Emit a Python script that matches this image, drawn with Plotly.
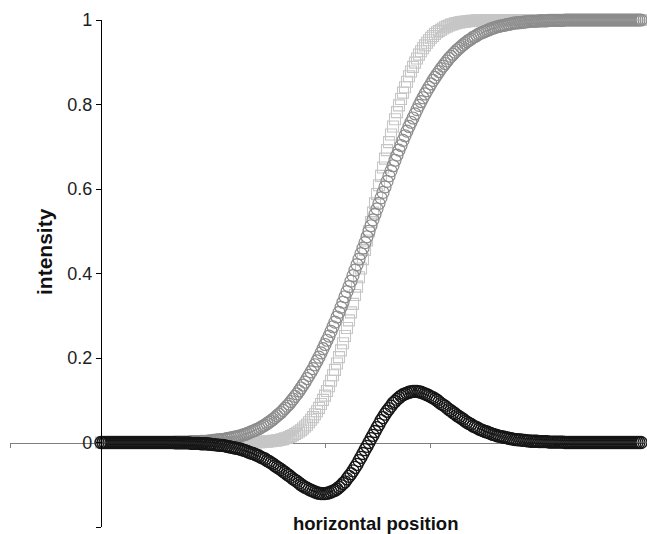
import plotly.graph_objects as go

# ---- data (sample index along the horizontal position) ----
x_pos = list(range(271))

circles = [
    0, 0, 0, 0, 0, 0, 0, 0, 0, 0,
    0, 0, 0, 0, 0, 0, 0, 0, 0, 0,
    0, 0, 0, 0, 0, 0, 0, 0, 0, 0,
    0, 0, 0, 0, 0, 0, 0, 0.001, 0.001, 0.001,
    0.001, 0.001, 0.001, 0.001, 0.001, 0.002, 0.002, 0.002, 0.002, 0.002,
    0.003, 0.003, 0.003, 0.003, 0.004, 0.004, 0.005, 0.005, 0.006, 0.006,
    0.007, 0.007, 0.008, 0.009, 0.010, 0.011, 0.012, 0.013, 0.014, 0.015,
    0.016, 0.018, 0.019, 0.021, 0.023, 0.025, 0.027, 0.029, 0.031, 0.033,
    0.036, 0.039, 0.041, 0.045, 0.048, 0.051, 0.055, 0.059, 0.063, 0.067,
    0.071, 0.076, 0.081, 0.086, 0.091, 0.097, 0.103, 0.109, 0.115, 0.122,
    0.129, 0.136, 0.143, 0.151, 0.159, 0.167, 0.175, 0.184, 0.193, 0.202,
    0.212, 0.222, 0.232, 0.242, 0.252, 0.263, 0.274, 0.285, 0.297, 0.308,
    0.320, 0.332, 0.345, 0.357, 0.369, 0.382, 0.395, 0.408, 0.421, 0.434,
    0.447, 0.460, 0.473, 0.487, 0.500, 0.513, 0.527, 0.540, 0.553, 0.566,
    0.579, 0.592, 0.605, 0.618, 0.631, 0.643, 0.655, 0.668, 0.680, 0.692,
    0.703, 0.715, 0.726, 0.737, 0.748, 0.758, 0.768, 0.778, 0.788, 0.798,
    0.807, 0.816, 0.825, 0.833, 0.841, 0.849, 0.857, 0.864, 0.871, 0.878,
    0.885, 0.891, 0.897, 0.903, 0.909, 0.914, 0.919, 0.924, 0.929, 0.933,
    0.937, 0.941, 0.945, 0.949, 0.952, 0.955, 0.959, 0.961, 0.964, 0.967,
    0.969, 0.971, 0.973, 0.975, 0.977, 0.979, 0.981, 0.982, 0.984, 0.985,
    0.986, 0.987, 0.988, 0.989, 0.990, 0.991, 0.992, 0.993, 0.993, 0.994,
    0.994, 0.995, 0.995, 0.996, 0.996, 0.997, 0.997, 0.997, 0.997, 0.998,
    0.998, 0.998, 0.998, 0.998, 0.999, 0.999, 0.999, 0.999, 0.999, 0.999,
    0.999, 0.999, 1, 1, 1, 1, 1, 1, 1, 1,
    1, 1, 1, 1, 1, 1, 1, 1, 1, 1,
    1, 1, 1, 1, 1, 1, 1, 1, 1, 1,
    1, 1, 1, 1, 1, 1, 1, 1, 1, 1,
    1,
]

squares = [
    0, 0, 0, 0, 0, 0, 0, 0, 0, 0,
    0, 0, 0, 0, 0, 0, 0, 0, 0, 0,
    0, 0, 0, 0, 0, 0, 0, 0, 0, 0,
    0, 0, 0, 0, 0, 0, 0, 0, 0, 0,
    0, 0, 0, 0, 0, 0, 0, 0, 0, 0,
    0, 0, 0, 0, 0, 0, 0, 0, 0, 0,
    0, 0, 0, 0, 0, 0, 0, 0, 0, 0,
    0, 0, 0, 0, 0, 0, 0.001, 0.001, 0.001, 0.001,
    0.001, 0.002, 0.002, 0.002, 0.003, 0.003, 0.004, 0.004, 0.005, 0.006,
    0.007, 0.008, 0.010, 0.011, 0.013, 0.015, 0.017, 0.020, 0.023, 0.026,
    0.029, 0.033, 0.038, 0.042, 0.048, 0.054, 0.060, 0.067, 0.074, 0.082,
    0.091, 0.101, 0.111, 0.122, 0.133, 0.146, 0.159, 0.172, 0.187, 0.202,
    0.218, 0.235, 0.252, 0.271, 0.289, 0.308, 0.328, 0.349, 0.369, 0.391,
    0.412, 0.434, 0.456, 0.478, 0.500, 0.522, 0.544, 0.566, 0.588, 0.609,
    0.631, 0.651, 0.672, 0.692, 0.711, 0.729, 0.748, 0.765, 0.782, 0.798,
    0.813, 0.828, 0.841, 0.854, 0.867, 0.878, 0.889, 0.899, 0.909, 0.918,
    0.926, 0.933, 0.940, 0.946, 0.952, 0.958, 0.962, 0.967, 0.971, 0.974,
    0.977, 0.980, 0.983, 0.985, 0.987, 0.989, 0.990, 0.992, 0.993, 0.994,
    0.995, 0.996, 0.996, 0.997, 0.997, 0.998, 0.998, 0.998, 0.999, 0.999,
    0.999, 0.999, 0.999, 1, 1, 1, 1, 1, 1, 1,
    1, 1, 1, 1, 1, 1, 1, 1, 1, 1,
    1, 1, 1, 1, 1, 1, 1, 1, 1, 1,
    1, 1, 1, 1, 1, 1, 1, 1, 1, 1,
    1, 1, 1, 1, 1, 1, 1, 1, 1, 1,
    1, 1, 1, 1, 1, 1, 1, 1, 1, 1,
    1, 1, 1, 1, 1, 1, 1, 1, 1, 1,
    1, 1, 1, 1, 1, 1, 1, 1, 1, 1,
    1,
]

difference = [
    0, 0, 0, 0, 0, 0, 0, 0, 0, 0,
    0, 0, 0, 0, 0, 0, 0, 0, 0, 0,
    0, 0, 0, 0, 0, 0, 0, 0, 0, 0,
    0, 0, 0, 0, 0, 0, 0, -0.001, -0.001, -0.001,
    -0.001, -0.001, -0.001, -0.001, -0.001, -0.002, -0.002, -0.002, -0.002, -0.002,
    -0.003, -0.003, -0.003, -0.003, -0.004, -0.004, -0.005, -0.005, -0.006, -0.006,
    -0.007, -0.007, -0.008, -0.009, -0.010, -0.011, -0.012, -0.013, -0.014, -0.015,
    -0.016, -0.018, -0.019, -0.021, -0.023, -0.025, -0.026, -0.028, -0.030, -0.032,
    -0.035, -0.037, -0.039, -0.043, -0.045, -0.048, -0.051, -0.055, -0.058, -0.061,
    -0.064, -0.068, -0.071, -0.075, -0.078, -0.082, -0.086, -0.089, -0.092, -0.096,
    -0.100, -0.103, -0.106, -0.108, -0.111, -0.113, -0.115, -0.117, -0.119, -0.120,
    -0.121, -0.121, -0.121, -0.120, -0.119, -0.117, -0.115, -0.113, -0.110, -0.106,
    -0.102, -0.097, -0.093, -0.086, -0.080, -0.074, -0.067, -0.059, -0.052, -0.043,
    -0.035, -0.026, -0.017, -0.009, 0, 0.009, 0.017, 0.026, 0.035, 0.043,
    0.052, 0.059, 0.067, 0.074, 0.080, 0.086, 0.093, 0.097, 0.102, 0.106,
    0.110, 0.113, 0.115, 0.117, 0.119, 0.120, 0.121, 0.121, 0.121, 0.120,
    0.119, 0.117, 0.115, 0.113, 0.111, 0.108, 0.106, 0.103, 0.100, 0.096,
    0.092, 0.089, 0.086, 0.082, 0.078, 0.075, 0.071, 0.068, 0.064, 0.061,
    0.058, 0.055, 0.051, 0.048, 0.045, 0.043, 0.039, 0.037, 0.035, 0.032,
    0.030, 0.028, 0.026, 0.025, 0.023, 0.021, 0.019, 0.018, 0.016, 0.015,
    0.014, 0.013, 0.012, 0.011, 0.010, 0.009, 0.008, 0.007, 0.007, 0.006,
    0.006, 0.005, 0.005, 0.004, 0.004, 0.003, 0.003, 0.003, 0.003, 0.002,
    0.002, 0.002, 0.002, 0.002, 0.001, 0.001, 0.001, 0.001, 0.001, 0.001,
    0.001, 0.001, 0, 0, 0, 0, 0, 0, 0, 0,
    0, 0, 0, 0, 0, 0, 0, 0, 0, 0,
    0, 0, 0, 0, 0, 0, 0, 0, 0, 0,
    0, 0, 0, 0, 0, 0, 0, 0, 0, 0,
    0,
]

for name, arr in (("circles", circles), ("squares", squares), ("difference", difference)):
    if len(arr) != len(x_pos):
        raise ValueError(f"{name} has {len(arr)} values, expected {len(x_pos)}")

y_ticks = [-0.2, 0, 0.2, 0.4, 0.6, 0.8, 1]
y_tick_labels = ["", "0", "0.2", "0.4", "0.6", "0.8", "1"]
x_title = "horizontal position"
y_title = "intensity"

# ---- layout constants ----
W, H = 647, 534
ML, MR, MT, MB = 10, 2, 20, 7
x_range = [-45.5, 272]
y_range = [-0.2, 1.0]
plot_w = W - ML - MR
plot_h = H - MT - MB

def px_to_paper_x(px):
    return (px - ML) / plot_w

def py_to_paper_y(py):
    return (H - MB - py) / plot_h

FONT = "Liberation Sans, Arial, sans-serif"

fig = go.Figure()
fig.add_trace(go.Scatter(
    x=x_pos, y=squares, mode="markers", cliponaxis=False,
    marker=dict(symbol="square-open", size=11, color="#c6c6c6",
                line=dict(width=1.1, color="#c6c6c6")),
))
fig.add_trace(go.Scatter(
    x=x_pos, y=circles, mode="markers", cliponaxis=False,
    marker=dict(symbol="circle-open", size=12, color="#8c8c8c",
                line=dict(width=1.2, color="#8c8c8c")),
))
fig.add_trace(go.Scatter(
    x=x_pos, y=difference, mode="markers", cliponaxis=False,
    marker=dict(symbol="circle-open", size=12, color="#151515",
                line=dict(width=1.3, color="#151515")),
))

fig.update_layout(
    width=W, height=H,
    margin=dict(l=ML, r=MR, t=MT, b=MB),
    plot_bgcolor="white", paper_bgcolor="white",
    showlegend=False,
    xaxis=dict(
        range=x_range, showgrid=False, zeroline=False,
        showline=True, linecolor="#7f7f7f", linewidth=1.3,
        ticks="outside", ticklen=4, tickcolor="#7f7f7f", tickwidth=1,
        tick0=x_range[0], dtick=52.5, showticklabels=False,
        anchor="free",
        position=(0 - y_range[0]) / (y_range[1] - y_range[0]),
        layer="below traces",
    ),
    yaxis=dict(
        range=y_range, showgrid=False, zeroline=False,
        showline=True, linecolor="black", linewidth=1.2,
        ticks="outside", ticklen=5, tickcolor="black", tickwidth=1,
        tickvals=y_ticks, ticktext=y_tick_labels,
        tickfont=dict(family=FONT, size=18, color="#1e1e1e"),
        anchor="free",
        position=(0 - x_range[0]) / (x_range[1] - x_range[0]),
        layer="above traces",
    ),
    annotations=[
        dict(text=x_title, xref="paper", yref="paper",
             x=px_to_paper_x(375), y=py_to_paper_y(523),
             xanchor="center", yanchor="middle", showarrow=False,
             font=dict(family=FONT, size=18.5, color="#111", weight="bold")),
        dict(text=y_title, xref="paper", yref="paper",
             x=px_to_paper_x(44), y=py_to_paper_y(252),
             xanchor="center", yanchor="middle", showarrow=False, textangle=-90,
             font=dict(family=FONT, size=21, color="#111", weight="bold")),
    ],
)

fig.write_html("out.html")
